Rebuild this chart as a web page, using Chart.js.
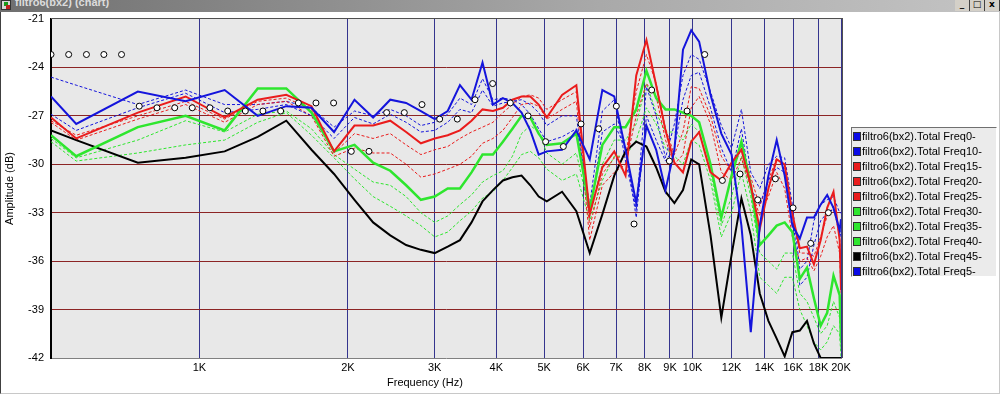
<!DOCTYPE html>
<html>
<head>
<meta charset="utf-8">
<script src="https://cdn.jsdelivr.net/npm/chart.js@4.4.1/dist/chart.umd.min.js"></script>
<style>
  body { margin:0; width:1000px; height:396px; position:relative; overflow:hidden; background:#fff;
         font-family:"Liberation Sans", Arial, sans-serif; }
  #chart { position:absolute; left:0; top:0; }
  #bar { position:absolute; left:0; top:0; width:1000px; height:12px; overflow:hidden;
         background:linear-gradient(to right,#6f6f6f,#a9a9a9 60%,#c4c4c4); }
  #bar .ico { position:absolute; left:1px; top:0; width:10px; height:10px; background:#d8d8d8; border:1px solid #333; box-sizing:border-box; }
  #bar .ico i { position:absolute; left:2px; top:1px; width:4px; height:4px; background:#1a9a1a; }
  #bar .ico b { position:absolute; left:4px; top:4px; width:4px; height:4px; background:#c02020; }
  #bar .txt { position:absolute; left:15px; top:-4px; font:bold 11px "Liberation Sans", Arial, sans-serif; color:#dcdcdc; }
  #bar .btn { position:absolute; top:0; width:14px; height:11px; background:#d4d0c8; border-right:1px solid #404040;
              font:bold 9px "DejaVu Sans", sans-serif; line-height:9px; text-align:center; color:#000; }
  #frame { position:absolute; left:0; top:12px; width:998px; height:381px; border-left:1px solid #404040;
           border-bottom:1px solid #c8c8c8; border-right:1px solid #c8c8c8; }
  #xtitle { position:absolute; left:387px; top:376px; font-size:11px; color:#000; }
  #legend { position:absolute; left:851px; top:127px; width:146px; height:150px; box-sizing:border-box;
            background:#ebebeb; border:1px solid; border-color:#707070 #ffffff #ffffff #707070; }
  #legend div { position:absolute; left:1px; height:15px; font-size:11px; line-height:15px; color:#000; white-space:nowrap; }
  #legend span { display:inline-block; width:8px; height:9px; margin-right:1px; vertical-align:-1px; box-sizing:border-box; border:1px solid #303030; }
</style>
</head>
<body>
<canvas id="chart" width="1000" height="396"></canvas>
<div id="frame"></div>
<div id="bar">
  <div class="ico"><i></i><b></b></div>
  <div class="txt">filtro6(bx2) (chart)</div>
  <div class="btn" style="left:955px">_</div>
  <div class="btn" style="left:970px">&#9633;</div>
  <div class="btn" style="left:985px">x</div>
</div>
<div id="xtitle">Frequency (Hz)</div>
<div id="legend"></div>
<script>
// frequenze (Hz) dei punti delle curve
const freqs = [500, 562.5, 750, 937.5, 1125, 1312.5, 1500, 1687.5, 1875, 2062.5,
  2250, 2437.5, 2625, 2812.5, 3000, 3187.5, 3375, 3562.5, 3750, 3937.5,
  4125, 4312.5, 4500, 4687.5, 4875, 5062.5, 5437.5, 5812.5, 6187.5, 6562.5,
  6937.5, 7312.5, 7687.5, 8062.5, 8437.5, 8812.5, 9187.5, 9562.5, 9937.5, 10312.5,
  10875, 11437.5, 12000, 12562.5, 13125, 13687.5, 14250, 14812.5, 15375, 15937.5,
  16500, 17062.5, 17625, 18187.5, 18750, 19312.5, 19875, 20000];

// ampiezze in dB per ogni angolo
const freq0 = [-25.8, -27.5, -25.5, -26.1, -25.4, -27.0, -26.4, -26.5, -28.0, -26.0,
  -27.1, -26.0, -26.2, -26.7, -27.2, -26.7, -25.1, -26.0, -23.7, -26.3,
  -25.9, -26.2, -26.8, -27.9, -29.4, -29.2, -29.1, -27.9, -29.7, -25.4,
  -25.8, -29.1, -32.4, -27.6, -29.1, -31.6, -29.1, -22.9, -21.7, -22.4,
  -25.7, -28.1, -29.4, -33.8, -40.4, -33.8, -30.7, -28.5, -30.7, -33.8,
  -34.6, -33.3, -33.3, -32.5, -31.9, -32.7, -34.1, -33.4];
const freq5 = [-24.6, -25.1, -26.3, -25.4, -26.3, -26.3, -26.1, -26.5, -27.7, -26.7,
  -27.0, -26.6, -27.0, -27.6, -27.4, -26.9, -25.9, -26.3, -24.7, -26.0,
  -25.9, -26.0, -26.3, -26.9, -27.8, -28.6, -28.3, -27.8, -32.5, -26.7,
  -26.0, -29.8, -32.8, -25.2, -27.0, -29.6, -27.5, -24.5, -23.2, -23.5,
  -25.5, -27.6, -29.0, -26.6, -30.5, -31.5, -30.0, -29.5, -29.6, -32.5,
  -36.5, -36.0, -33.5, -32.5, -32.2, -32.0, -33.0, -33.0];
const freq10 = [-26.9, -27.9, -26.5, -25.6, -26.8, -26.6, -26.3, -27.0, -28.4, -27.1,
  -27.5, -26.9, -27.4, -28.0, -27.9, -27.4, -26.6, -26.8, -25.4, -26.4,
  -26.2, -26.1, -26.0, -26.3, -26.8, -27.6, -27.0, -27.0, -33.2, -28.0,
  -27.5, -29.0, -33.3, -27.0, -28.5, -29.8, -29.0, -26.0, -24.5, -24.3,
  -26.5, -29.0, -30.5, -27.8, -31.5, -32.5, -31.0, -30.2, -30.5, -33.0,
  -37.5, -37.0, -35.0, -33.5, -33.0, -32.8, -34.0, -34.5];
const freq15 = [-27.1, -28.4, -26.8, -25.8, -27.1, -26.0, -25.7, -26.4, -29.2, -27.6,
  -27.6, -27.3, -28.0, -28.7, -28.4, -28.2, -27.9, -27.3, -26.6, -26.7,
  -26.5, -26.0, -25.8, -25.8, -26.3, -27.1, -25.7, -25.1, -33.1, -30.2,
  -29.2, -30.7, -24.5, -22.3, -25.1, -27.9, -29.9, -30.5, -28.6, -28.0,
  -30.5, -31.0, -29.9, -29.1, -31.3, -34.0, -31.5, -29.7, -30.0, -33.1,
  -35.2, -35.1, -36.2, -34.7, -32.7, -31.7, -34.7, -37.8];
const freq20 = [-27.3, -28.2, -27.0, -26.1, -27.2, -26.1, -25.9, -26.6, -29.3, -28.1,
  -28.4, -28.1, -28.8, -29.4, -29.1, -28.9, -28.4, -28.0, -27.7, -27.4,
  -26.8, -26.3, -25.8, -25.7, -25.9, -26.6, -26.0, -25.5, -33.9, -30.6,
  -29.6, -29.5, -25.5, -23.2, -25.0, -27.8, -29.4, -28.0, -25.2, -25.3,
  -27.0, -29.5, -30.5, -29.0, -30.8, -32.6, -31.0, -29.6, -30.3, -33.0,
  -35.5, -35.5, -35.7, -34.5, -33.2, -32.6, -34.5, -37.0];
const freq25 = [-27.4, -28.5, -27.2, -26.3, -27.4, -26.3, -26.1, -27.0, -29.5, -29.0,
  -29.3, -29.3, -30.0, -30.8, -30.6, -30.3, -30.0, -29.5, -28.7, -28.4,
  -27.9, -27.1, -26.3, -26.2, -26.4, -27.2, -26.6, -26.1, -34.7, -31.3,
  -30.5, -30.0, -27.0, -25.0, -25.8, -28.5, -30.0, -29.4, -26.5, -25.8,
  -27.5, -30.5, -31.0, -29.6, -31.5, -33.2, -32.0, -30.5, -31.5, -34.5,
  -36.0, -35.8, -36.6, -35.7, -34.5, -33.8, -35.5, -38.0];
const freq30 = [-28.2, -29.5, -27.7, -27.0, -27.9, -25.3, -25.3, -26.8, -29.2, -28.8,
  -29.9, -30.4, -31.3, -32.2, -32.0, -31.5, -31.5, -30.5, -29.4, -29.4,
  -28.6, -27.8, -27.0, -27.1, -28.1, -28.8, -28.7, -28.1, -32.8, -28.8,
  -27.7, -27.7, -26.6, -24.2, -25.9, -26.6, -26.6, -26.8, -27.0, -27.4,
  -30.0, -33.3, -30.7, -28.6, -31.3, -35.0, -34.4, -33.8, -33.6, -34.2,
  -37.1, -36.4, -38.3, -40.0, -39.2, -36.9, -38.1, -40.9];
const freq35 = [-28.4, -29.6, -28.5, -27.3, -28.0, -26.9, -26.7, -27.8, -29.4, -30.3,
  -31.1, -31.3, -32.0, -33.0, -33.6, -33.2, -32.5, -31.9, -31.1, -30.7,
  -30.4, -29.5, -28.1, -27.6, -28.0, -29.3, -30.0, -29.3, -33.0, -30.0,
  -28.5, -28.5, -27.5, -25.0, -26.8, -28.0, -28.0, -28.5, -27.5, -28.0,
  -30.5, -33.8, -32.0, -29.5, -32.0, -35.5, -36.0, -36.5, -35.5, -35.5,
  -38.0, -38.5, -39.5, -40.5, -40.0, -38.5, -39.5, -41.5];
const freq40 = [-28.6, -29.8, -29.3, -28.8, -28.5, -27.4, -26.8, -28.2, -29.6, -30.9,
  -32.0, -32.6, -33.2, -33.8, -34.5, -34.2, -33.5, -32.9, -32.1, -31.7,
  -31.0, -30.2, -29.4, -29.2, -29.6, -30.3, -31.0, -30.6, -33.5, -31.0,
  -29.5, -29.5, -28.5, -26.5, -27.5, -29.0, -29.5, -30.0, -28.5, -28.8,
  -31.0, -34.5, -33.0, -30.5, -33.0, -37.0, -37.5, -38.0, -37.0, -37.0,
  -39.0, -40.0, -41.0, -41.5, -41.0, -40.0, -40.5, -42.0];
const freq45 = [-27.9, -28.5, -29.9, -29.6, -29.2, -28.3, -27.3, -29.1, -30.6, -32.2,
  -33.6, -34.4, -35.0, -35.3, -35.5, -35.1, -34.7, -33.6, -32.3, -31.6,
  -31.0, -30.8, -30.7, -31.3, -32.0, -32.3, -31.7, -32.9, -35.5, -33.1,
  -30.7, -29.2, -28.6, -28.9, -30.2, -31.7, -32.4, -31.6, -29.7, -30.0,
  -34.4, -39.5, -35.6, -32.1, -34.4, -38.0, -39.7, -40.8, -41.9, -40.4,
  -40.3, -39.7, -41.1, -42.0, -42.0, -42.0, -42.0, -42.0];

// curva di riferimento con i cerchietti
const markerFreqs = [500, 543, 590, 640, 695, 755, 820, 891, 967, 1050,
  1141, 1239, 1345, 1461, 1587, 1723, 1871, 2032, 2207, 2397,
  2603, 2827, 3070, 3334, 3621, 3932, 4270, 4638, 5036, 5470,
  5940, 6451, 7006, 7609, 8263, 8974, 9746, 10584, 11494, 12483,
  13557, 14722, 15988, 17363, 18857];
const markerDb = [-23.2, -23.2, -23.2, -23.2, -23.2, -26.4, -26.5, -26.5, -26.5, -26.5,
  -26.7, -26.7, -26.7, -26.7, -26.2, -26.2, -26.2, -29.2, -29.2, -26.8,
  -26.8, -26.3, -27.2, -27.2, -26.0, -25.0, -26.2, -27.0, -28.6, -28.9,
  -27.5, -27.8, -26.4, -33.7, -25.4, -29.8, -26.7, -23.2, -31.0, -30.6,
  -32.2, -30.9, -32.7, -34.9, -33.0];

const xTickValues = [1000, 2000, 3000, 4000, 5000, 6000, 7000, 8000, 9000, 10000, 12000, 14000, 16000, 18000, 20000];
const xTickLabels = ['1K', '2K', '3K', '4K', '5K', '6K', '7K', '8K', '9K', '10K', '12K', '14K', '16K', '18K', '20K'];

const BLUE = '#1414dc', RED = '#ea1c1c', GREEN = '#2ee62e', BLACK = '#000000';

// ordine della legenda come nel programma originale
const series = [
  {name: 'filtro6(bx2).Total Freq0-',  values: freq0,  color: BLUE,  dash: false},
  {name: 'filtro6(bx2).Total Freq10-', values: freq10, color: BLUE,  dash: true},
  {name: 'filtro6(bx2).Total Freq15-', values: freq15, color: RED,   dash: false},
  {name: 'filtro6(bx2).Total Freq20-', values: freq20, color: RED,   dash: true},
  {name: 'filtro6(bx2).Total Freq25-', values: freq25, color: RED,   dash: true},
  {name: 'filtro6(bx2).Total Freq30-', values: freq30, color: GREEN, dash: false},
  {name: 'filtro6(bx2).Total Freq35-', values: freq35, color: GREEN, dash: true},
  {name: 'filtro6(bx2).Total Freq40-', values: freq40, color: GREEN, dash: true},
  {name: 'filtro6(bx2).Total Freq45-', values: freq45, color: BLACK, dash: false},
  {name: 'filtro6(bx2).Total Freq5-',  values: freq5,  color: BLUE,  dash: true}
];

const datasets = series.map(s => ({
  label: s.name,
  data: freqs.map((f, i) => ({x: f, y: s.values[i]})),
  borderColor: s.color,
  borderWidth: s.dash ? 1 : (s.color === GREEN ? 2.5 : 2),
  borderDash: s.dash ? [3, 2] : [],
  pointRadius: 0,
  tension: 0,
  fill: false,
  order: s.dash ? 3 : 2
}));
datasets.push({
  label: 'marker',
  data: markerFreqs.map((f, i) => ({x: f, y: markerDb[i]})),
  showLine: false,
  pointRadius: 3,
  pointBackgroundColor: '#ffffff',
  pointBorderColor: '#000000',
  pointBorderWidth: 1,
  order: 0
});

// legenda html
const legend = document.getElementById('legend');
series.forEach((s, i) => {
  const row = document.createElement('div');
  row.style.top = (1 + i * 15) + 'px';
  row.innerHTML = '<span style="background:' + (s.color === BLUE ? '#0a0ae6' : s.color) + '"></span>' + s.name;
  legend.appendChild(row);
});

const plotBg = {
  id: 'plotBg',
  beforeDraw(chart) {
    const {ctx, chartArea: a} = chart;
    ctx.save();
    ctx.fillStyle = '#e8e8e8';
    ctx.fillRect(a.left, a.top, a.right - a.left, a.bottom - a.top);
    ctx.restore();
  },
  afterDraw(chart) {
    const {ctx, chartArea: a} = chart;
    ctx.save();
    ctx.strokeStyle = '#505050';
    ctx.lineWidth = 1;
    ctx.beginPath();
    ctx.moveTo(a.left, a.top - 0.5);
    ctx.lineTo(a.right + 2, a.top - 0.5);
    ctx.moveTo(a.right + 1.5, a.top);
    ctx.lineTo(a.right + 1.5, a.bottom);
    ctx.stroke();
    ctx.restore();
  }
};

const ctx = document.getElementById('chart');
const chart = new Chart(ctx, {
  type: 'line',
  data: {datasets: datasets},
  options: {
    responsive: false,
    animation: false,
    devicePixelRatio: 1,
    layout: {padding: {top: 19, right: 159, left: 0, bottom: 0}},
    plugins: {legend: {display: false}, tooltip: {enabled: false}},
    scales: {
      x: {
        type: 'logarithmic',
        min: 500,
        max: 20000,
        afterFit: s => { s.height = 38; },
        afterBuildTicks: s => { s.ticks = xTickValues.map(v => ({value: v})); },
        ticks: {
          autoSkip: false, maxRotation: 0, padding: 3, color: '#000',
          font: {family: '"Liberation Sans", Arial, sans-serif', size: 11},
          callback: v => xTickLabels[xTickValues.indexOf(v)]
        },
        grid: {color: '#34348e', lineWidth: 1, drawTicks: false},
        border: {color: '#808080', width: 1}
      },
      y: {
        min: -42,
        max: -21,
        afterFit: s => { s.width = 51; },
        ticks: {
          stepSize: 3, padding: 7, color: '#000',
          font: {family: '"Liberation Sans", Arial, sans-serif', size: 11}
        },
        grid: {
          color: c => (c.tick && (c.tick.value === -21 || c.tick.value === -42)) ? 'rgba(0,0,0,0)' : '#8c2424',
          lineWidth: 1, drawTicks: false
        },
        border: {color: '#000', width: 2},
        title: {
          display: true, text: 'Amplitude (dB)', color: '#000',
          font: {family: '"Liberation Sans", Arial, sans-serif', size: 11},
          padding: {top: 3, bottom: 0}
        }
      }
    }
  },
  plugins: [plotBg]
});
</script>
</body>
</html>
